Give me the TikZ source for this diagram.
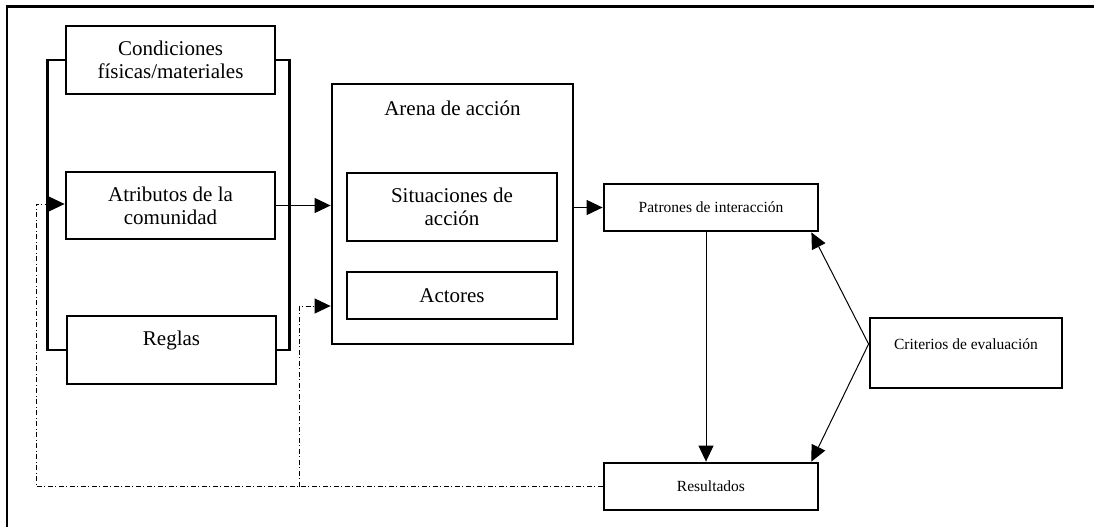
\documentclass[tikz,border=0pt]{standalone}
\usepackage{fontspec}
\setmainfont{Liberation Serif}
\usetikzlibrary{arrows.meta, positioning}

\begin{document}
\begin{tikzpicture}[x=1pt, y=-1pt]
\tikzstyle{box} = [rectangle, draw, line width=2.8pt, align=center, inner sep=0pt, font=\fontsize{21}{23}\selectfont]
\tikzstyle{smallbox} = [box, font=\fontsize{15.5}{18}\selectfont]
\tikzstyle{arrow} = [line width=1pt, -{Triangle[length=16pt, width=15pt]}]
\tikzstyle{feedback} = [arrow, dash pattern=on 5pt off 2.5pt on 1pt off 2.5pt]
\tikzstyle{bracket} = [line width=2.8pt]

\useasboundingbox (0,0) rectangle (1094,527);
\draw [line width=2.4pt] (7,527) -- (7,6.5) -- (1094,6.5);

\node (cond) [box, minimum width=209pt, minimum height=68pt] at (170.5,60) {Condiciones\\físicas/materiales};
\node (attr) [box, minimum width=209pt, minimum height=67pt] at (170.5,205.5) {Atributos de la\\comunidad};
\node (regl) [box, minimum width=209pt, minimum height=68pt] at (171.5,350) {Reglas\\\mbox{}};

\node (arena) [box, minimum width=241pt, minimum height=260pt] at (452.5,214) {};
\node (arenatitle) [font=\fontsize{21}{23}\selectfont, inner sep=0pt] at (452.5,108) {Arena de acción};
\node (sit) [box, minimum width=210pt, minimum height=68pt] at (452,207) {Situaciones de\\acción};
\node (act) [box, minimum width=210pt, minimum height=47pt] at (452,295.5) {Actores};

\node (pat) [smallbox, minimum width=214pt, minimum height=47pt] at (711,207.5) {Patrones de interacción};
\node (res) [smallbox, minimum width=214pt, minimum height=47pt] at (711,486.5) {Resultados};
\node (crit) [smallbox, minimum width=192pt, minimum height=70pt] at (966,353) {Criterios de evaluación\\\mbox{}};

\draw [bracket] (cond.west) -- ++(-17,0) |- (regl.west);
\draw [bracket] (cond.east) -- ++(13,0) |- (regl.east);

\draw [arrow] (attr.east) -- (attr.east -| arena.west);
\draw [arrow] (pat.west -| arena.east) -- (pat.west);
\draw [arrow] ([xshift=-5pt]pat.south) -- ([xshift=-5pt]res.north);
\draw [arrow] ([yshift=9pt]crit.west) -- ([xshift=-8pt]pat.south east);
\draw [arrow] ([yshift=9pt]crit.west) -- ([xshift=-8pt]res.north east);

\coordinate (loopL) at (36,486.5);
\coordinate (loopM) at (299,486.5);
\coordinate (loopT) at (299,306);
\draw [feedback] (res.west) -- (loopL) |- ([yshift=1.5pt]attr.west);
\draw [feedback] (loopM) -- (loopT) -- (loopT -| arena.west);

\end{tikzpicture}
\end{document}
